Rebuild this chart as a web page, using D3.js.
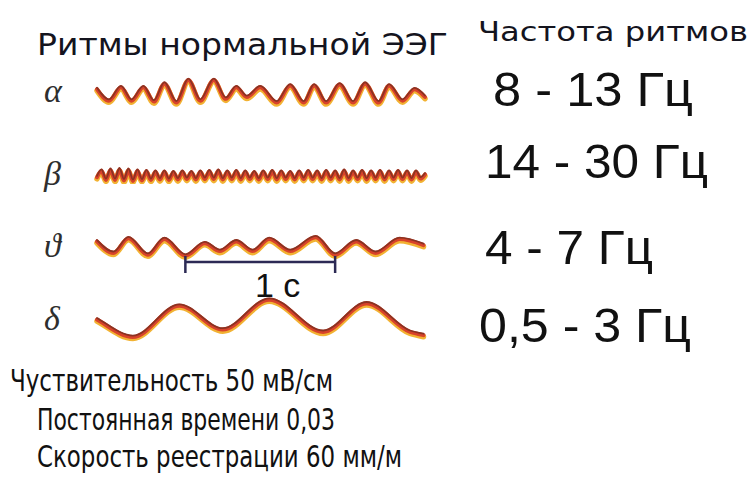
<!DOCTYPE html>
<html>
<head>
<meta charset="utf-8">
<script src="https://cdn.jsdelivr.net/npm/d3@7"></script>
<style>
  body { margin: 0; background: #fff; }
  svg { display: block; }
</style>
</head>
<body>
<div id="chart"></div>
<script>
// rhythm names, frequency bands and recording notes
var rhythms = ["α", "β", "ϑ", "δ"];
var freqs = ["8 - 13 Гц", "14 - 30 Гц", "4 - 7 Гц", "0,5 - 3 Гц"];
var title = "Ритмы нормальной ЭЭГ";
var freqTitle = "Частота ритмов";
var notes = ["Чуствительность 50 мВ/см", "Постоянная времени 0,03", "Скорость реестрации 60 мм/м"];
var scaleLabel = "1 с";
var scaleBar = [0.59, 1.59]; // seconds

// traces: [time s, amplitude]
var alpha = [[0.00,7],[0.08,-18],[0.16,11],[0.23,-18],[0.31,11],[0.38,-20],[0.45,19],[0.53,-22],[0.61,27],
  [0.69,-18],[0.78,27],[0.86,-14],[0.93,11],[1.00,-10],[1.09,11],[1.20,-22],[1.29,15],[1.38,-22],[1.45,15],
  [1.53,-22],[1.62,17],[1.71,-22],[1.79,19],[1.88,-22],[1.95,15],[2.04,-18],[2.12,7],[2.19,-10]];
var beta = [[0.00,-4],[0.03,10],[0.06,-10],[0.09,12],[0.12,-10],[0.15,13],[0.18,-11],[0.21,12],[0.24,-12],
  [0.27,10],[0.30,-11],[0.33,9],[0.36,-10],[0.39,8],[0.42,-9],[0.45,8],[0.48,-10],[0.51,7],[0.54,-9],[0.57,8],
  [0.60,-8],[0.63,7],[0.66,-9],[0.69,8],[0.72,-8],[0.75,9],[0.78,-8],[0.81,10],[0.84,-9],[0.87,8],[0.90,-8],
  [0.93,9],[0.96,-9],[0.99,8],[1.02,-8],[1.05,7],[1.08,-9],[1.11,8],[1.14,-8],[1.17,9],[1.20,-9],[1.23,8],
  [1.26,-8],[1.29,7],[1.32,-9],[1.35,8],[1.38,-8],[1.41,9],[1.44,-8],[1.47,8],[1.50,-9],[1.53,9],[1.56,-8],
  [1.59,8],[1.62,-9],[1.65,10],[1.68,-9],[1.71,8],[1.74,-8],[1.77,9],[1.80,-9],[1.83,8],[1.86,-8],[1.89,9],
  [1.92,-9],[1.95,8],[1.98,-8],[2.01,9],[2.04,-8],[2.07,8],[2.10,-9],[2.13,8],[2.16,-7],[2.19,2]];
var theta = [[0.00,13],[0.11,-12],[0.21,20],[0.34,-16],[0.45,18],[0.59,-18],[0.72,9],[0.82,-8],[0.93,13],
  [1.04,-8],[1.15,18],[1.29,-8],[1.46,22],[1.59,-16],[1.73,13],[1.86,-12],[2.02,18],[2.18,5]];
var delta = [[0.00,2],[0.02,-2],[0.24,-36],[0.55,32],[0.84,-20],[1.15,45],[1.51,-25],[1.80,37],[2.09,-25],[2.18,-32]];

var traces = [alpha, beta, theta, delta];

var width = 753, height = 493;
var rowY = [92, 175, 247, 320];

var svg = d3.select("#chart").append("svg")
    .attr("width", width).attr("height", height)
    .attr("viewBox", [0, 0, width, height]);

var defs = svg.append("defs");
defs.append("filter").attr("id", "soft")
    .append("feGaussianBlur").attr("stdDeviation", 0.5);

var x = d3.scaleLinear().domain([0, 2.19]).range([97, 425]);
var amp = d3.scaleLinear().domain([-50, 50]).range([23, -23]);

var line = d3.line()
    .curve(d3.curveMonotoneX)
    .x(d => x(d[0]))
    .y(d => amp(d[1]));

// title + header
svg.append("text")
    .attr("x", 37).attr("y", 55)
    .attr("textLength", 411).attr("lengthAdjust", "spacingAndGlyphs")
    .style("font-family", "DejaVu Sans").style("font-size", "31px")
    .style("fill", "#14141e")
    .text(title);

svg.append("text")
    .attr("x", 478).attr("y", 41)
    .attr("textLength", 270).attr("lengthAdjust", "spacingAndGlyphs")
    .style("font-family", "DejaVu Sans").style("font-size", "27px")
    .style("fill", "#14141e")
    .text(freqTitle);

var row = svg.selectAll(".row")
    .data(rhythms)
    .enter().append("g")
    .attr("class", "row")
    .attr("transform", (d, i) => "translate(0," + rowY[i] + ")");

row.append("text")
    .attr("x", 44).attr("y", 10)
    .style("font-family", "Liberation Serif").style("font-style", "italic")
    .style("font-size", "34px").style("fill", "#2e2e2e")
    .text(d => d);

var waves = row.append("g").attr("filter", "url(#soft)");

waves.append("path")
    .attr("d", (d, i) => line(traces[i]))
    .attr("transform", "translate(0,2)")
    .style("fill", "none").style("stroke", "#f2b233").style("stroke-width", 5.5)
    .style("stroke-linejoin", "round").style("stroke-linecap", "round");

waves.append("path")
    .attr("d", (d, i) => line(traces[i]))
    .attr("transform", "translate(0,0.4)")
    .style("fill", "none").style("stroke", "#d8432a").style("stroke-width", 4)
    .style("stroke-linejoin", "round").style("stroke-linecap", "round");

waves.append("path")
    .attr("d", (d, i) => line(traces[i]))
    .attr("transform", "translate(0,-1)")
    .style("fill", "none").style("stroke", "#8c3322").style("stroke-width", 1.8)
    .style("stroke-linejoin", "round").style("stroke-linecap", "round");

// frequency labels
var fx = [493, 485, 485, 479], fy = [106, 178, 264, 342], fw = [200, 223, 168, 212];
svg.selectAll(".freq")
    .data(freqs)
    .enter().append("text")
    .attr("class", "freq")
    .attr("x", (d, i) => fx[i])
    .attr("y", (d, i) => fy[i])
    .attr("textLength", (d, i) => fw[i]).attr("lengthAdjust", "spacingAndGlyphs")
    .style("font-family", "Liberation Sans").style("font-size", "48px")
    .style("fill", "#111")
    .text(d => d);

// 1 second bar under theta
var bar = svg.append("g").attr("transform", "translate(0,262)").style("stroke", "#2c2a55");
bar.append("line")
    .attr("x1", x(scaleBar[0])).attr("x2", x(scaleBar[1]))
    .style("stroke-width", 2.5);
bar.selectAll(".tick").data(scaleBar).enter().append("line")
    .attr("x1", d => x(d)).attr("x2", d => x(d))
    .attr("y1", -6).attr("y2", 11)
    .style("stroke-width", 2.5);

svg.append("text")
    .attr("x", 255).attr("y", 297)
    .style("font-family", "Liberation Sans").style("font-size", "34px")
    .style("fill", "#111")
    .text(scaleLabel);

// recording notes
var noteX = [10, 37, 37], noteY = [391, 430, 467], noteW = [323, 298, 365];
svg.selectAll(".note")
    .data(notes)
    .enter().append("text")
    .attr("class", "note")
    .attr("x", (d, i) => noteX[i]).attr("y", (d, i) => noteY[i])
    .attr("textLength", (d, i) => noteW[i]).attr("lengthAdjust", "spacingAndGlyphs")
    .style("font-family", "DejaVu Sans").style("font-size", "30px")
    .style("fill", "#111")
    .text(d => d);
</script>
</body>
</html>
